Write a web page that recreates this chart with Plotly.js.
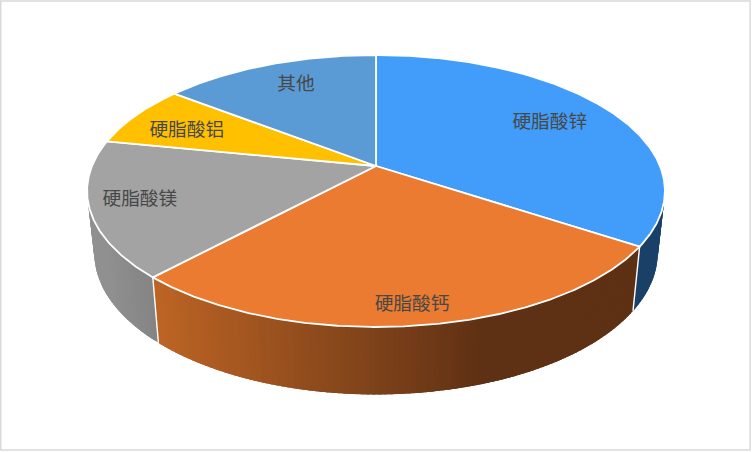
<!DOCTYPE html>
<html><head><meta charset="utf-8">
<script src="https://cdn.plot.ly/plotly-3.0.1.min.js"></script>
<style>html,body{margin:0;padding:0;background:#fff}#c{width:752px;height:452px}</style>
</head><body><div id="c"></div>
<script>
const categories = ['硬脂酸锌','硬脂酸钙','硬脂酸镁','硬脂酸铝','其他'];
const shares = [34.3,27.6,16.2,7.4,14.5];
const topColors = ['#419DF9','#EB7B30','#A3A3A3','#FFC000','#5B9BD5'];
const wallFrom = [[26,64,104],[188,100,36],[144,144,144],[153,115,0],[55,94,128]];
const wallTo   = [[26,64,104],[94,48,20],[132,132,132],[153,115,0],[55,94,128]];
const labelRadius = [0.736,0.892,0.832,0.755,0.764];
const labelTurnDeg = [0.4,0,0.4,-2.6,1.5];

const W=752,H=452;
const cx=376, apexY=166, S=284, A=131.4, k=-0.1838;
const bottomDY=61, sx2=0.975, sy2=1.04;
function rim(theta,r,bottom){
  const u=r*Math.sin(theta), v=r*Math.cos(theta), w=1/(1-k*v);
  if(bottom) return [cx+S*sx2*u*w, -(apexY+bottomDY-A*sy2*v*w)];
  return [cx+S*u*w, -(apexY-A*v*w)];
}
const total=shares.reduce((a,b)=>a+b,0);
const edges=[0]; shares.forEach(s=>edges.push(edges[edges.length-1]+s/total*2*Math.PI));
const mix=(a,b,t)=>a.map((x,i)=>Math.round(x+(b[i]-x)*t));
const traces=[];
function poly(xs,ys,fill,line,lw){
  traces.push({type:'scatter',mode:'lines',x:xs,y:ys,fill:'toself',fillcolor:fill,
    line:{color:line||fill,width:lw===undefined?0:lw},hoverinfo:'skip',showlegend:false});
}
const stepRad=1.0*Math.PI/180;
// side walls: thin quads shaded by screen position; each one overlaps the next so no seams show
shares.forEach((s,i)=>{
  const a0=edges[i],a1=edges[i+1],n=Math.max(1,Math.ceil((a1-a0)/stepRad));
  const xa=rim(a0,1,false)[0], xb=rim(a1,1,false)[0];
  for(let j=0;j<n;j++){
    const t0=a0+(a1-a0)*j/n,t1=Math.min(a1,a0+(a1-a0)*(j+2.5)/n);
    if(Math.cos(t0)>0.3) continue;
    const p=rim(t0,1,false),q=rim(t1,1,false),p2=rim(t1,1,true),q2=rim(t0,1,true);
    const mx=p[0];
    let g;
    if(i===1) g=Math.min(1,Math.max(0,(mx-158)/(490-158)));
    else g=Math.min(1,Math.max(0,(mx-Math.min(xa,xb))/Math.max(1,Math.abs(xb-xa))));
    poly([p[0],q[0],p2[0],q2[0],p[0]],[p[1],q[1],p2[1],q2[1],p[1]],`rgb(${mix(wallFrom[i],wallTo[i],g)})`);
  }
});
// white seams on the visible wall boundaries
edges.slice(0,-1).forEach(a=>{
  if(Math.cos(a)<0){
    const p=rim(a,1,false),q=rim(a,1,true);
    traces.push({type:'scatter',mode:'lines',x:[p[0],q[0]],y:[p[1],q[1]],line:{color:'#fff',width:1.4},hoverinfo:'skip',showlegend:false});
  }
});
// top faces
shares.forEach((s,i)=>{
  const a0=edges[i],a1=edges[i+1],n=Math.ceil((a1-a0)/(0.5*Math.PI/180));
  const xs=[cx],ys=[-apexY];
  for(let j=0;j<=n;j++){const p=rim(a0+(a1-a0)*j/n,1,false);xs.push(p[0]);ys.push(p[1]);}
  xs.push(cx);ys.push(-apexY);
  poly(xs,ys,topColors[i],'#ffffff',1.8);
});
// labels placed through the same projection, relative to each slice's middle angle
const lx=[],ly=[];
shares.forEach((s,i)=>{const p=rim((edges[i]+edges[i+1])/2+labelTurnDeg[i]*Math.PI/180,labelRadius[i],false);lx.push(p[0]);ly.push(p[1]);});
traces.push({type:'scatter',mode:'text',x:lx,y:ly,text:categories,textposition:'middle center',
  textfont:{family:'"Noto Sans CJK SC",sans-serif',size:18.7,color:'#484848'},hoverinfo:'skip',showlegend:false});

Plotly.newPlot('c',traces,{
  width:W,height:H,margin:{l:0,r:0,t:0,b:0},paper_bgcolor:'#fff',plot_bgcolor:'#fff',
  xaxis:{range:[0,W],visible:false,fixedrange:true},
  yaxis:{range:[-H,0],visible:false,fixedrange:true},
  shapes:[{type:'rect',xref:'paper',yref:'paper',x0:0.001,x1:0.9975,y0:0.0045,y1:0.998,line:{color:'#D9D9D9',width:1.5},fillcolor:'rgba(0,0,0,0)'}],
  showlegend:false
},{displayModeBar:false,staticPlot:true});
</script></body></html>
